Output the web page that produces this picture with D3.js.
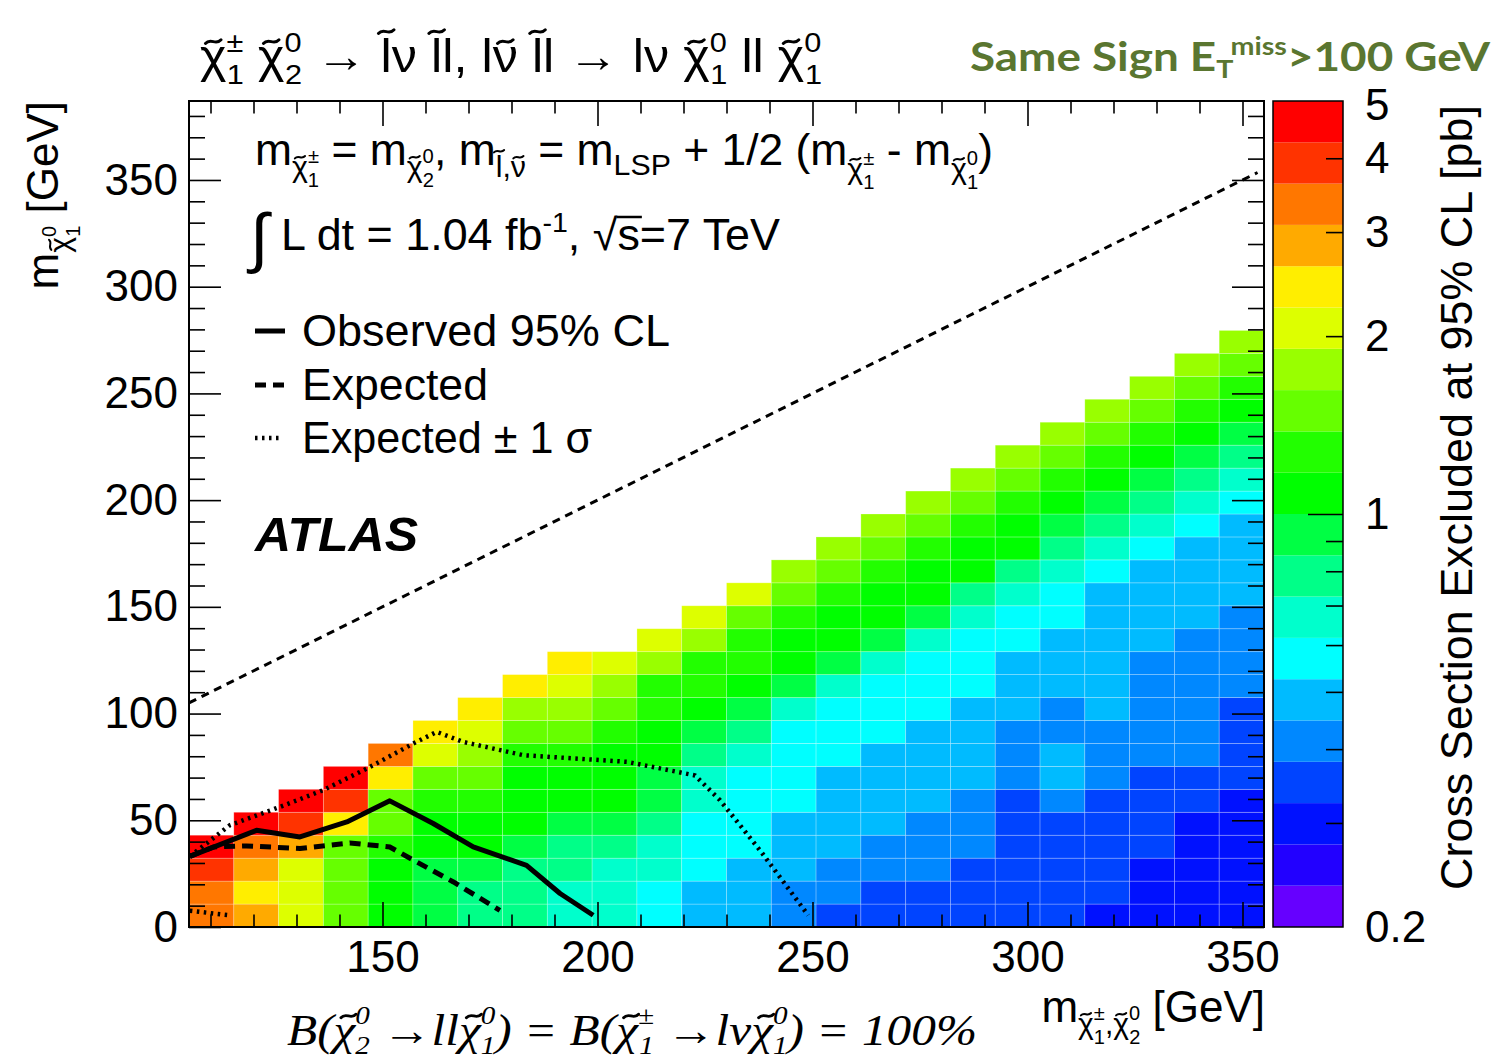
<!DOCTYPE html>
<html><head><meta charset="utf-8">
<script src="https://cdn.jsdelivr.net/npm/d3@7"></script>
<style>body{margin:0;background:#fff}svg{display:block}</style>
</head><body>
<svg id="c" width="1493" height="1063"></svg>
<script>
// ---------------- DATA ----------------
const xDomain = [105, 355];
const yDomain = [0, 387];
const xTickLabels = [150, 200, 250, 300, 350];
const yTickLabels = [0, 50, 100, 150, 200, 250, 300, 350];
const zTickLabels = [0.2, 1, 2, 3, 4, 5];
const zMinorTicks = [0.3, 0.4, 0.5, 0.6, 0.7, 0.8, 0.9, 2, 3, 4];
// bin edges of the grid (GeV)
const xEdges = [105, 115.42, 125.83, 136.25, 146.67, 157.08, 167.5, 177.92, 188.33, 198.75, 209.17, 219.58, 230,
  240.42, 250.83, 261.25, 271.67, 282.08, 292.5, 302.92, 313.33, 323.75, 334.17, 344.58, 355];
const yEdges = [0, 10.75, 21.5, 32.25, 43, 53.75, 64.5, 75.25, 86, 96.75, 107.5, 118.25, 129, 139.75, 150.5, 161.25,
  172, 182.75, 193.5, 204.25, 215, 225.75, 236.5, 247.25, 258, 268.75, 279.5];
// excluded cross section [pb], one array per x bin, from lowest y bin upward
const xsec = [
  [3.35, 3.35, 3.93, 4.62],
  [2.85, 2.43, 2.85, 3.35, 4.62],
  [2.06, 2.06, 2.06, 2.85, 3.93, 4.62],
  [1.50, 1.50, 1.50, 1.50, 2.43, 3.93, 4.62],
  [1.08, 1.08, 1.08, 1.27, 1.50, 1.50, 2.43, 3.35],
  [0.923, 0.923, 0.923, 1.08, 1.08, 1.27, 1.50, 2.06, 2.43],
  [0.786, 0.786, 0.923, 1.08, 1.08, 1.27, 1.50, 1.76, 2.06, 2.43],
  [0.786, 0.786, 0.786, 0.923, 1.08, 1.08, 1.08, 1.27, 1.50, 1.76, 2.43],
  [0.669, 0.669, 0.786, 0.786, 0.923, 1.08, 1.08, 1.27, 1.50, 1.76, 2.06, 2.43],
  [0.669, 0.669, 0.669, 0.786, 0.923, 1.08, 1.08, 1.08, 1.27, 1.50, 1.76, 2.06],
  [0.569, 0.569, 0.669, 0.669, 0.786, 0.923, 0.923, 1.08, 1.08, 1.27, 1.27, 1.76, 2.06],
  [0.485, 0.485, 0.569, 0.569, 0.569, 0.669, 0.669, 0.786, 0.923, 1.08, 1.27, 1.27, 1.76, 2.06],
  [0.485, 0.485, 0.485, 0.569, 0.569, 0.569, 0.569, 0.669, 0.786, 0.923, 1.08, 1.27, 1.27, 1.50, 2.06],
  [0.413, 0.413, 0.485, 0.485, 0.485, 0.569, 0.569, 0.569, 0.569, 0.669, 0.923, 1.08, 1.08, 1.27, 1.50, 1.76],
  [0.351, 0.413, 0.413, 0.485, 0.485, 0.485, 0.485, 0.569, 0.569, 0.569, 0.669, 0.923, 1.08, 1.08, 1.27, 1.50, 1.76],
  [0.351, 0.351, 0.413, 0.413, 0.485, 0.485, 0.485, 0.485, 0.569, 0.569, 0.569, 0.669, 0.923, 1.08, 1.08, 1.27, 1.50, 1.76],
  [0.351, 0.351, 0.413, 0.413, 0.413, 0.485, 0.485, 0.485, 0.485, 0.569, 0.569, 0.569, 0.669, 0.923, 1.08, 1.08, 1.27, 1.50, 1.76],
  [0.351, 0.351, 0.351, 0.413, 0.413, 0.413, 0.485, 0.485, 0.485, 0.485, 0.569, 0.569, 0.569, 0.669, 0.786, 1.08, 1.08, 1.27, 1.50, 1.76],
  [0.351, 0.351, 0.351, 0.351, 0.351, 0.351, 0.413, 0.413, 0.413, 0.485, 0.485, 0.485, 0.569, 0.569, 0.669, 0.786, 1.08, 1.08, 1.27, 1.50, 1.76],
  [0.351, 0.351, 0.351, 0.351, 0.351, 0.413, 0.485, 0.485, 0.413, 0.413, 0.485, 0.485, 0.485, 0.569, 0.569, 0.669, 0.786, 0.923, 1.08, 1.27, 1.50, 1.76],
  [0.299, 0.351, 0.351, 0.351, 0.351, 0.351, 0.413, 0.413, 0.413, 0.485, 0.485, 0.485, 0.485, 0.485, 0.485, 0.569, 0.669, 0.786, 0.923, 1.08, 1.27, 1.50, 1.76],
  [0.299, 0.299, 0.299, 0.351, 0.351, 0.351, 0.351, 0.413, 0.413, 0.413, 0.413, 0.413, 0.485, 0.485, 0.485, 0.485, 0.569, 0.669, 0.786, 0.923, 1.08, 1.27, 1.50, 1.76],
  [0.299, 0.299, 0.299, 0.299, 0.299, 0.351, 0.351, 0.413, 0.413, 0.413, 0.413, 0.413, 0.413, 0.485, 0.485, 0.485, 0.485, 0.569, 0.669, 0.786, 0.923, 1.08, 1.27, 1.50, 1.76],
  [0.299, 0.299, 0.299, 0.299, 0.299, 0.299, 0.351, 0.351, 0.351, 0.351, 0.413, 0.413, 0.413, 0.413, 0.485, 0.485, 0.485, 0.485, 0.569, 0.669, 0.786, 0.923, 1.08, 1.27, 1.50, 1.76]
];
// exclusion contours [m_chargino, m_LSP]
const observed = [[105.2, 33.1], [120.7, 45.3], [130.8, 42.2], [141.7, 49.2], [151.7, 59.1], [161.8, 48.5],
  [171.1, 37.5], [183.5, 28.9], [191.3, 15.7], [199.0, 5.5]];
const expected = [[105.2, 33.1], [110.7, 37.5], [118.4, 38.0], [130.8, 36.8], [142.4, 39.4], [151.7, 37.5],
  [157.2, 31.3], [166.5, 21.1], [177.3, 7.8]];
const expectedUp = [[105.2, 33.1], [114.5, 47.7], [126.2, 56.3], [136.2, 64.1], [147.1, 75.0], [157.2, 86.0],
  [162.6, 91.4], [168.8, 86.7], [182.7, 80.5], [206.8, 77.4], [222.7, 71.0], [228.5, 59.4], [237.8, 35.9], [249.0, 5.5]];
const expectedDown = [[105.2, 7.6], [114.5, 5.5]];
const kinematicLimit = [[105, 105], [353.5, 353.5]];
const palette = ['#6600ff', '#2200ff', '#0011ff', '#0044ff', '#0088ff', '#00bbff', '#00ffff', '#00ffcc', '#00ff88', '#00ff44',
  '#00ff00', '#22ff00', '#66ff00', '#99ff00', '#ddff00', '#ffee00', '#ffaa00', '#ff7700', '#ff3300', '#ff0000'];

// ---------------- DRAW ----------------
const FONT = "'Liberation Sans', Arial, Helvetica, sans-serif";
const SERIF = "'Liberation Serif', 'Times New Roman', serif";
const svg = d3.select('#c');
const X0 = 189, X1 = 1264, Y0 = 927, Y1 = 101;
const x = d3.scaleLinear().domain(xDomain).range([X0, X1]);
const y = d3.scaleLinear().domain(yDomain).range([Y0, Y1]);
const z = d3.scaleLog().domain([0.2, 5]).range([Y0, Y1]);
const levels = d3.range(0, 21).map(k => 0.2 * Math.pow(25, k / 20));
const color = d3.scaleThreshold().domain(levels.slice(1, 20)).range(palette);

const cells = [];
xsec.forEach((col, c) => col.forEach((v, r) => cells.push({c, r, v})));
svg.append('g').selectAll('rect').data(cells).join('rect')
  .attr('x', d => x(xEdges[d.c])).attr('width', d => x(xEdges[d.c + 1]) - x(xEdges[d.c]))
  .attr('y', d => y(yEdges[d.r + 1])).attr('height', d => y(yEdges[d.r]) - y(yEdges[d.r + 1]))
  .attr('fill', d => color(d.v)).attr('stroke', 'rgba(255,255,255,0.3)').attr('stroke-width', 0.8);

function styleAxis(g) {
  g.select('.domain').remove();
  g.selectAll('line').attr('stroke', '#000').attr('stroke-width', 1.6);
  g.selectAll('text').attr('font-size', 44).attr('font-family', FONT).attr('fill', '#000');
}
const xMinor = d3.range(110, 355, 10).filter(v => v % 50 !== 0);
const yMinor = d3.range(10, 387, 10).filter(v => v % 50 !== 0);
svg.append('g').attr('transform', `translate(0,${Y0})`)
  .call(d3.axisBottom(x).tickValues(xTickLabels).tickSize(-25).tickPadding(14).tickFormat(d3.format('d'))).call(styleAxis);
svg.append('g').attr('transform', `translate(0,${Y0})`)
  .call(d3.axisBottom(x).tickValues(xMinor).tickSize(-12.5).tickFormat('')).call(styleAxis);
svg.append('g').attr('transform', `translate(0,${Y1})`)
  .call(d3.axisTop(x).tickValues(xTickLabels).tickSize(-25).tickFormat('')).call(styleAxis);
svg.append('g').attr('transform', `translate(0,${Y1})`)
  .call(d3.axisTop(x).tickValues(xMinor).tickSize(-12.5).tickFormat('')).call(styleAxis);
svg.append('g').attr('transform', `translate(${X0},0)`)
  .call(d3.axisLeft(y).tickValues(yTickLabels).tickSize(-32).tickPadding(11).tickFormat(d3.format('d'))).call(styleAxis);
svg.append('g').attr('transform', `translate(${X0},0)`)
  .call(d3.axisLeft(y).tickValues(yMinor).tickSize(-16).tickFormat('')).call(styleAxis);
svg.append('g').attr('transform', `translate(${X1},0)`)
  .call(d3.axisRight(y).tickValues(yTickLabels).tickSize(-32).tickFormat('')).call(styleAxis);
svg.append('g').attr('transform', `translate(${X1},0)`)
  .call(d3.axisRight(y).tickValues(yMinor).tickSize(-16).tickFormat('')).call(styleAxis);

// lines
const line = d3.line().x(d => x(d[0])).y(d => y(d[1]));
svg.append('path').attr('d', line(kinematicLimit)).attr('fill', 'none').attr('stroke', '#000')
  .attr('stroke-width', 3).attr('stroke-dasharray', '8,6');
svg.append('path').attr('d', line(expectedUp)).attr('fill', 'none').attr('stroke', '#000')
  .attr('stroke-width', 4.5).attr('stroke-dasharray', '2.5,4.5');
svg.append('path').attr('d', line(expectedDown)).attr('fill', 'none').attr('stroke', '#000')
  .attr('stroke-width', 4.5).attr('stroke-dasharray', '2.5,4.5');
svg.append('path').attr('d', line(expected)).attr('fill', 'none').attr('stroke', '#000')
  .attr('stroke-width', 5).attr('stroke-dasharray', '11,7');
svg.append('path').attr('d', line(observed)).attr('fill', 'none').attr('stroke', '#000')
  .attr('stroke-width', 5).attr('stroke-linejoin', 'round');

// frame
svg.append('rect').attr('x', X0).attr('y', Y1).attr('width', X1 - X0).attr('height', Y0 - Y1)
  .attr('fill', 'none').attr('stroke', '#000').attr('stroke-width', 2);

// colour bar
const CB0 = 1273, CB1 = 1343;
svg.append('g').selectAll('rect').data(d3.range(20)).join('rect')
  .attr('x', CB0).attr('width', CB1 - CB0)
  .attr('y', k => z(levels[k + 1])).attr('height', k => z(levels[k]) - z(levels[k + 1]))
  .attr('fill', k => palette[k]);
svg.append('rect').attr('x', CB0).attr('y', Y1).attr('width', CB1 - CB0).attr('height', Y0 - Y1)
  .attr('fill', 'none').attr('stroke', '#000').attr('stroke-width', 1.5);
svg.append('g').attr('transform', `translate(${CB1},0)`)
  .call(d3.axisRight(z).tickValues(zMinorTicks).tickSize(-17).tickFormat('')).call(styleAxis);
svg.append('g').attr('transform', `translate(${CB1},0)`)
  .call(d3.axisRight(z).tickValues([1]).tickSize(-35).tickFormat('')).call(styleAxis);
svg.append('g').attr('transform', `translate(${CB1},0)`)
  .call(d3.axisRight(z).tickValues(zTickLabels).tickSize(0).tickPadding(22).tickFormat(d => String(d))).call(styleAxis)
  .call(g => g.selectAll('text').filter(d => d === 5).attr('dy', '0.42em'));

// ---------------- TEXT ----------------
// parts: {t, s: size, y: baseline shift, dx, tilde: tilde accent over t, lift: extra accent height, tdx: accent shift}
function rich(sel, parts) {
  let prev = 0, count = 0;
  const tildes = [];
  parts.forEach(p => {
    const sh = p.y || 0;
    const ts = sel.append('tspan').text(p.t).attr('font-size', p.s);
    if (sh !== prev) ts.attr('dy', sh - prev);
    if (p.dx) ts.attr('dx', p.dx);
    prev = sh;
    if (p.tilde) tildes.push({i: count, s: p.s, lift: p.lift || 0, tdx: p.tdx || 0});
    count += p.t.length;
  });
  sel.node().__tildes = tildes;
  return sel;
}
function drawTildes(sel) {
  const node = sel.node();
  (node.__tildes || []).forEach(td => {
    const p0 = node.getStartPositionOfChar(td.i), p1 = node.getEndPositionOfChar(td.i);
    const w = 0.34 * td.s, a = 0.04 * td.s;
    const cx = (p0.x + p1.x) / 2 + td.tdx, ty = p0.y - 0.66 * td.s - td.lift;
    const x0 = cx - w / 2;
    svg.append('path')
      .attr('d', `M${x0},${ty + a} C${x0 + 0.35 * w},${ty - 2.4 * a} ${x0 + 0.65 * w},${ty + 2.4 * a} ${x0 + w},${ty - a}`)
      .attr('fill', 'none').attr('stroke', '#000').attr('stroke-width', Math.max(1.4, 0.065 * td.s))
      .attr('stroke-linecap', 'round').attr('transform', sel.attr('transform'));
  });
  return sel;
}
function txt(xp, yp, opts) {
  const t = svg.append('text').attr('x', xp).attr('y', yp).attr('font-family', opts.font || FONT)
    .attr('fill', opts.fill || '#000');
  if (opts.size) t.attr('font-size', opts.size);
  if (opts.weight) t.attr('font-weight', opts.weight);
  if (opts.style) t.attr('font-style', opts.style);
  if (opts.anchor) t.attr('text-anchor', opts.anchor);
  if (opts.transform) t.attr('transform', opts.transform);
  return t;
}
function fit(t, len) { t.attr('textLength', len).attr('lengthAdjust', 'spacingAndGlyphs'); return t; }

const chi = (s, yy, extra) => Object.assign({t: 'χ', s, y: yy || 0, tilde: true}, extra || {});

// title
const T = 46, TS = 28;
const tsup = t => ({t, s: TS, y: -20});
const tsub = t => ({t, s: TS, y: 12, dx: -15});
drawTildes(fit(rich(txt(200, 72, {}), [
  chi(T), tsup('±'), tsub('1'), {t: ' ', s: T}, chi(T), tsup('0'), tsub('2'),
  {t: ' → ', s: T}, {t: 'l', s: T, tilde: true, lift: 10}, {t: 'ν ', s: T}, {t: 'l', s: T, tilde: true, lift: 10},
  {t: 'l, l', s: T}, {t: 'ν', s: T, tilde: true}, {t: ' ', s: T}, {t: 'l', s: T, tilde: true, lift: 10},
  {t: 'l → lν ', s: T}, chi(T), tsup('0'), tsub('1'), {t: ' ll ', s: T}, chi(T), tsup('0'), tsub('1')]), 622));

// analysis tag
fit(rich(txt(970, 71, {weight: 'bold', fill: '#5a7630', font: "Lato, 'Open Sans', sans-serif"}), [
  {t: 'Same Sign E', s: 40}, {t: 'T', s: 25, y: 7}, {t: 'miss', s: 25, y: -16}, {t: '>100 GeV', s: 40, y: 0}]), 520);

// mass relation
const s2up = (t, yy) => ({t, s: 20, y: yy === undefined ? -2 : yy});
const s2dn = (t, yy) => ({t, s: 20, y: yy === undefined ? 22 : yy, dx: -11});
drawTildes(fit(rich(txt(255, 165, {}), [
  {t: 'm', s: 44}, chi(30, 12), s2up('±'), s2dn('1'), {t: ' = m', s: 44, y: 0}, chi(30, 12), s2up('0'), s2dn('2'),
  {t: ', m', s: 44, y: 0}, {t: 'l', s: 30, y: 12, tilde: true, lift: 6}, {t: ',', s: 30, y: 12},
  {t: 'ν', s: 30, y: 12, tilde: true}, {t: ' = m', s: 44, y: 0}, {t: 'LSP', s: 30, y: 10},
  {t: ' + 1/2 (m', s: 44, y: 0}, chi(30, 14), s2up('±', 0), s2dn('1', 24),
  {t: ' - m', s: 44, y: 0}, chi(30, 14), s2up('0', 0), s2dn('1', 24), {t: ')', s: 44, y: 0}]), 738));

// luminosity
const lumi = fit(rich(txt(250, 250, {}), [
  {t: '∫', s: 66, y: 10}, {t: ' L dt = 1.04 fb', s: 44, y: 0}, {t: '-1', s: 28, y: -18}, {t: ', √', s: 44, y: 0},
  {t: 's=7 TeV', s: 44}]), 530);
{
  const node = lumi.node();
  const i = node.textContent.indexOf('s=7');
  const p0 = node.getStartPositionOfChar(i), p1 = node.getEndPositionOfChar(i);
  svg.append('line').attr('x1', p0.x - 1).attr('x2', p1.x + 2).attr('y1', 217).attr('y2', 217)
    .attr('stroke', '#000').attr('stroke-width', 2.5);
}

// legend
svg.append('line').attr('x1', 255).attr('x2', 285).attr('y1', 331).attr('y2', 331).attr('stroke', '#000').attr('stroke-width', 5);
svg.append('line').attr('x1', 255).attr('x2', 284).attr('y1', 385).attr('y2', 385).attr('stroke', '#000').attr('stroke-width', 5).attr('stroke-dasharray', '11,7');
svg.append('line').attr('x1', 255).attr('x2', 283).attr('y1', 438).attr('y2', 438).attr('stroke', '#000').attr('stroke-width', 4.5).attr('stroke-dasharray', '2.5,4.5');
fit(txt(302, 346, {size: 44}).text('Observed 95% CL'), 368);
fit(txt(302, 400, {size: 44}).text('Expected'), 186);
fit(txt(302, 453, {size: 44}).text('Expected ± 1 σ'), 290);

// ATLAS
fit(txt(255, 551, {size: 48, weight: 'bold', style: 'italic'}).text('ATLAS'), 163);

// axis titles
drawTildes(rich(txt(0, 0, {anchor: 'end', transform: 'translate(58,101) rotate(-90)'}), [
  {t: 'm', s: 44}, chi(30, 12), s2up('0'), s2dn('1'), {t: ' [GeV]', s: 44, y: 0}]));
drawTildes(rich(txt(1265, 1022, {anchor: 'end'}), [
  {t: 'm', s: 44}, chi(30, 12), s2up('±'), s2dn('1'), {t: ',', s: 30, y: 12}, chi(30, 12), s2up('0'), s2dn('2'),
  {t: ' [GeV]', s: 44, y: 0}]));
fit(txt(0, 0, {size: 44, anchor: 'end', transform: 'translate(1472,105) rotate(-90)'})
  .text('Cross Section Excluded at 95% CL [pb]'), 785);

// branching ratio
const bsup = t => ({t, s: 26, y: -21});
const bsub = t => ({t, s: 26, y: 9, dx: -13});
const bchi = () => chi(44, 0, {tdx: 4});
drawTildes(fit(rich(txt(287, 1045, {font: SERIF, style: 'italic'}), [
  {t: 'B(', s: 44}, bchi(), bsup('0'), bsub('2'), {t: ' →', s: 44, y: 0}, {t: 'll', s: 44}, bchi(), bsup('0'), bsub('1'),
  {t: ') = B(', s: 44, y: 0}, bchi(), bsup('±'), bsub('1'), {t: ' →', s: 44, y: 0}, {t: 'lν', s: 44}, bchi(), bsup('0'),
  bsub('1'), {t: ') = 100%', s: 44, y: 0}]), 690));
</script>
</body></html>
